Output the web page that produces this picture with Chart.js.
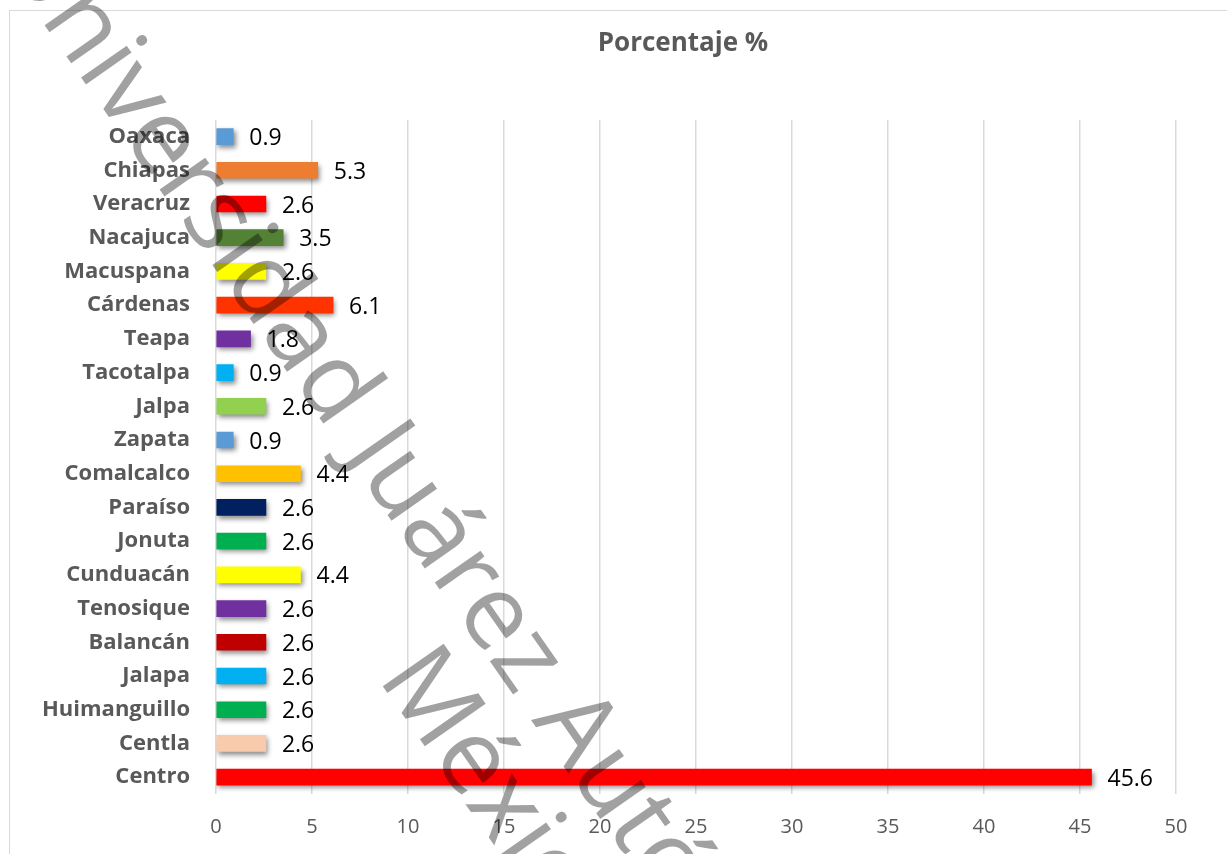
<!DOCTYPE html>
<html>
<head>
<meta charset="utf-8">
<script src="https://cdn.jsdelivr.net/npm/chart.js@4"></script>
<style>
  html, body { margin: 0; padding: 0; background: #fff; overflow: hidden; }
  #grafica { position: absolute; left: 0; top: 0; }
</style>
</head>
<body>
<canvas id="grafica" width="1366" height="900"></canvas>
<script>
// municipios / estados de procedencia y su porcentaje
const municipios = ['Oaxaca', 'Chiapas', 'Veracruz', 'Nacajuca', 'Macuspana', 'Cárdenas', 'Teapa',
  'Tacotalpa', 'Jalpa', 'Zapata', 'Comalcalco', 'Paraíso', 'Jonuta', 'Cunduacán', 'Tenosique',
  'Balancán', 'Jalapa', 'Huimanguillo', 'Centla', 'Centro'];
const porcentajes = [0.9, 5.3, 2.6, 3.5, 2.6, 6.1, 1.8, 0.9, 2.6, 0.9, 4.4, 2.6, 2.6, 4.4, 2.6,
  2.6, 2.6, 2.6, 2.6, 45.6];
const colores = ['#5B9BD5', '#ED7D31', '#FF0000', '#538135', '#FFFF00', '#FF3300', '#7030A0',
  '#00B0F0', '#92D050', '#5B9BD5', '#FFC000', '#002060', '#00B050', '#FFFF00', '#7030A0',
  '#C00000', '#00B0F0', '#00B050', '#F8CBAD', '#FF0000'];
const ticksX = [0, 5, 10, 15, 20, 25, 30, 35, 40, 45, 50];

const marcaAgua = ['Universidad Juárez Autónoma de Tabasco.', 'México.'];

// fondo blanco y marco del grafico
const marco = {
  id: 'marco',
  beforeDraw(chart) {
    const ctx = chart.ctx;
    ctx.save();
    ctx.fillStyle = '#fff';
    ctx.fillRect(0, 0, chart.width, chart.height);
    ctx.strokeStyle = '#d9d9d9';
    ctx.lineWidth = 1;
    ctx.strokeRect(9.5, 10.5, chart.width, chart.height);
    ctx.restore();
  }
};

// el titulo se centra sobre todo el ancho, no solo sobre el area de barras
const tituloCentrado = {
  id: 'tituloCentrado',
  afterLayout(chart) {
    if (chart.titleBlock) {
      chart.titleBlock.left = 0;
      chart.titleBlock.right = chart.width;
      chart.titleBlock.width = chart.width;
    }
  }
};

// sombra debajo de las barras
const sombra = {
  id: 'sombra',
  beforeDatasetDraw(chart) {
    const ctx = chart.ctx;
    ctx.save();
    ctx.shadowColor = 'rgba(0,0,0,0.45)';
    ctx.shadowBlur = 5;
    ctx.shadowOffsetX = 2;
    ctx.shadowOffsetY = 3;
  },
  afterDatasetDraw(chart) {
    chart.ctx.restore();
  }
};

// etiqueta con el valor al final de cada barra
const etiquetas = {
  id: 'etiquetas',
  afterDatasetsDraw(chart) {
    const ctx = chart.ctx;
    const meta = chart.getDatasetMeta(0);
    ctx.save();
    ctx.font = '23px "Open Sans"';
    ctx.fillStyle = '#000';
    ctx.textAlign = 'left';
    ctx.textBaseline = 'middle';
    meta.data.forEach((bar, i) => {
      ctx.fillText(porcentajes[i].toFixed(1), bar.x + 16, bar.y + 2);
    });
    ctx.restore();
  }
};

// texto en diagonal encima de todo
const agua = {
  id: 'agua',
  afterDraw(chart) {
    const ctx = chart.ctx;
    ctx.save();
    ctx.translate(-4, -44);
    ctx.rotate(55 * Math.PI / 180);
    ctx.font = '104px "Open Sans"';
    ctx.fillStyle = 'rgba(0,0,0,0.37)';
    ctx.textBaseline = 'alphabetic';
    ctx.fillText(marcaAgua[0], 0, 0);
    ctx.fillText(marcaAgua[1], 810, 102);
    ctx.restore();
  }
};

const ctx = document.getElementById('grafica').getContext('2d');
new Chart(ctx, {
  type: 'bar',
  data: {
    labels: municipios,
    datasets: [{
      label: 'Porcentaje %',
      data: porcentajes,
      backgroundColor: colores,
      borderWidth: 0,
      barThickness: 16
    }]
  },
  options: {
    indexAxis: 'y',
    responsive: false,
    animation: false,
    layout: { padding: { left: 0, right: 190, top: 0, bottom: 40 } },
    plugins: {
      legend: { display: false },
      tooltip: { enabled: false },
      title: {
        display: true,
        text: 'Porcentaje %',
        color: '#595959',
        font: { family: 'Open Sans', size: 26, weight: 'bold' },
        padding: { top: 28, bottom: 60.5 }
      }
    },
    scales: {
      x: {
        min: 0,
        max: 50,
        afterBuildTicks(scale) {
          scale.ticks = ticksX.map(v => ({ value: v }));
        },
        grid: { color: '#d9d9d9', lineWidth: 1.5, drawTicks: false },
        border: { display: false },
        ticks: {
          color: '#595959',
          padding: 21,
          font: { family: 'Open Sans', size: 20 }
        }
      },
      y: {
        afterFit(scale) { scale.width = 216; },
        grid: { display: false, drawTicks: false },
        border: { display: false },
        ticks: {
          color: '#595959',
          padding: 26,
          font: { family: 'Open Sans', size: 22, weight: 'bold' }
        }
      }
    }
  },
  plugins: [marco, tituloCentrado, sombra, etiquetas, agua]
});
</script>
</body>
</html>
